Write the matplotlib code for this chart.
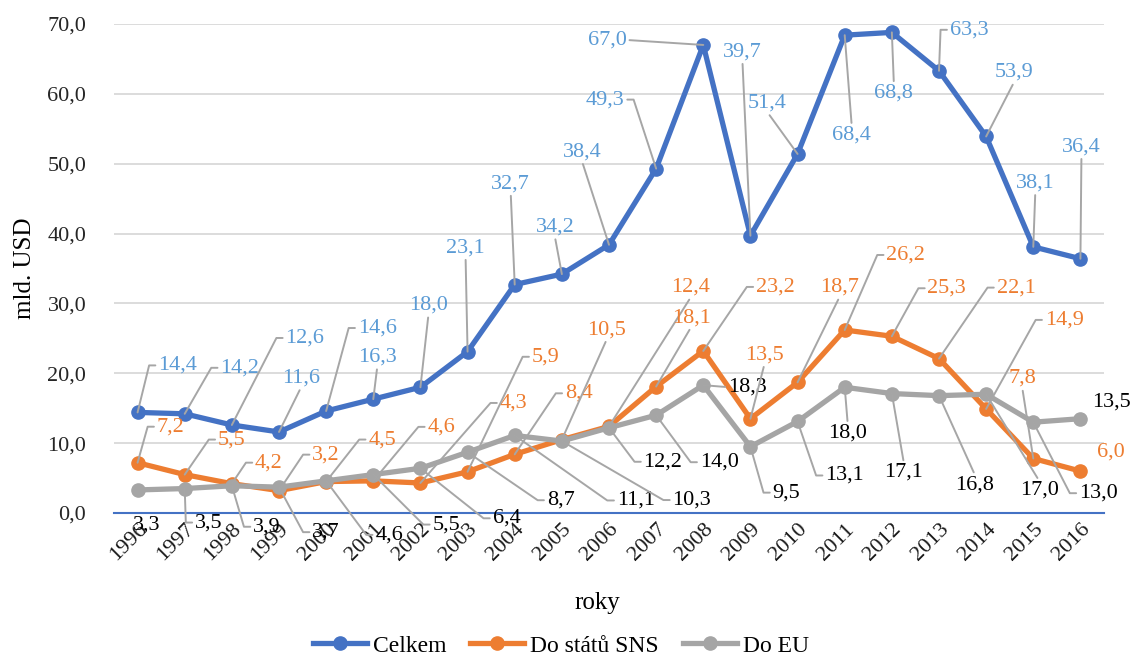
import math
import numpy as np
import matplotlib
matplotlib.use("Agg")
import matplotlib.pyplot as plt

# --- DATA ---
years = [str(y) for y in range(1996, 2017)]
celkem = [14.4, 14.2, 12.6, 11.6, 14.6, 16.3, 18.0, 23.1, 32.7, 34.2, 38.4,
          49.3, 67.0, 39.7, 51.4, 68.4, 68.8, 63.3, 53.9, 38.1, 36.4]
do_sns = [7.2, 5.5, 4.2, 3.2, 4.5, 4.6, 4.3, 5.9, 8.4, 10.5, 12.4,
          18.1, 23.2, 13.5, 18.7, 26.2, 25.3, 22.1, 14.9, 7.8, 6.0]
do_eu = [3.3, 3.5, 3.9, 3.7, 4.6, 5.5, 6.4, 8.7, 11.1, 10.3, 12.2,
         14.0, 18.3, 9.5, 13.1, 18.0, 17.1, 16.8, 17.0, 13.0, 13.5]

# label offsets in pixels (dx right, dy down) relative to the point
off_celkem = [(40, -47), (55, -46), (73, -87), (22, -54), (51, -83), (4, -42), (8, -82),
              (-2, -104), (-4, -101), (-7, -47), (-27, -93), (-51, -69), (-96, -5),
              (-8, -184), (-30, -51), (7, 100), (2, 61), (30, -41), (28, -64), (2, -64), (1, -112)]
off_sns = [(33, -36), (47, -35), (37, -21), (47, -36), (56, -42), (68, -54), (93, -80),
           (78, -115), (64, -61), (45, -110), (82, -139), (35, -69), (72, -64), (14, -64),
           (42, -95), (61, -75), (55, -48), (77, -71), (78, -89), (-11, -80), (30, -19)]
off_eu = [(9, 35), (24, 34), (35, 41), (47, 45), (63, 54), (73, 50), (86, 50), (93, 48),
          (121, 65), (130, 59), (54, 34), (63, 47), (44, 2), (36, 46), (47, 54), (3, 46),
          (12, 79), (36, 89), (53, 96), (65, 71), (31, -17)]

plt.rcParams['font.family'] = 'Liberation Serif'

fig = plt.figure(figsize=(11.33, 6.57), dpi=100)
ax = fig.add_axes([114 / 1133, 1 - 513 / 657, 990 / 1133, 489 / 657])

x = np.arange(len(years))
ax.plot(x, celkem, color='#4472C4', lw=3.8, marker='o', ms=9.5, label='Celkem', zorder=3)
ax.plot(x, do_sns, color='#ED7D31', lw=3.8, marker='o', ms=9.5, label='Do států SNS', zorder=3)
ax.plot(x, do_eu, color='#A5A5A5', lw=3.8, marker='o', ms=9.5, label='Do EU', zorder=3)

ax.set_xlim(-0.5, len(years) - 0.5)
ax.set_ylim(0, 70)
yt = np.arange(0, 71, 10)
ax.set_yticks(yt)
ax.set_yticklabels([f'{v:.1f}'.replace('.', ',') for v in yt], fontsize=16, color='#262626')
ax.set_xticks(x)
ax.set_xticklabels(years, rotation=45, ha='right', rotation_mode='anchor',
                   fontsize=16, color='#1a1a1a')
ax.tick_params(axis='y', length=0, pad=20)
ax.tick_params(axis='x', length=0, pad=5)
ax.grid(axis='y', color='#D9D9D9', lw=1.3)
ax.set_axisbelow(True)
for s in ['top', 'right', 'left']:
    ax.spines[s].set_visible(False)
ax.spines['bottom'].set_color('#4472C4')
ax.spines['bottom'].set_linewidth(1.5)

ax.set_xlabel('roky', fontsize=18)
ax.xaxis.set_label_coords(0.488, -(603 - 513) / 489)
ax.xaxis.label.set_verticalalignment('center')
ax.set_ylabel('mld. USD', fontsize=18)
ax.yaxis.set_label_coords((25 - 114) / 990, 0.50)
ax.yaxis.label.set_verticalalignment('center')


def add_label(xi, yi, off, color):
    dx, dy = off[0], -off[1]
    txt = f'{yi:.1f}'.replace('.', ',')
    w = 11.1 * (len(txt) - 1) + 5.6
    props = None
    if math.hypot(dx, dy) > 40:
        cs = 'arc3'
        if abs(dx) < 0.6 * abs(dy):
            rel = (0.5, 0.0) if dy > 0 else (0.5, 1.0)
        else:
            sgn = 1 if dx > 0 else -1
            rel = (0.0, 0.5) if dx > 0 else (1.0, 0.5)
            sx = dx - sgn * w / 2 - sgn * 9
            if abs(dy) > 15 and sx * sgn > 0:
                ang = math.degrees(math.atan2(dy, sx))
                cs = f'angle,angleA=0,angleB={ang:.2f},rad=0'
        props = dict(arrowstyle='-', color='#A6A6A6', lw=1.4, shrinkA=0, shrinkB=0,
                     relpos=rel, connectionstyle=cs)
    ax.annotate(txt, xy=(xi, yi), xytext=(dx, dy), textcoords='offset pixels',
                ha='center', va='center', fontsize=16, color=color,
                arrowprops=props, zorder=5)


for i in range(len(years)):
    add_label(x[i], celkem[i], off_celkem[i], '#5B9BD5')
    add_label(x[i], do_sns[i], off_sns[i], '#ED7D31')
    add_label(x[i], do_eu[i], off_eu[i], '#000000')

fig.legend(loc='center', bbox_to_anchor=(0.495, 1 - 646 / 657), ncol=3, frameon=False,
           fontsize=17, handlelength=2.3, handletextpad=0.25, columnspacing=1.0, numpoints=1)

fig.savefig('out.png', dpi=100)
